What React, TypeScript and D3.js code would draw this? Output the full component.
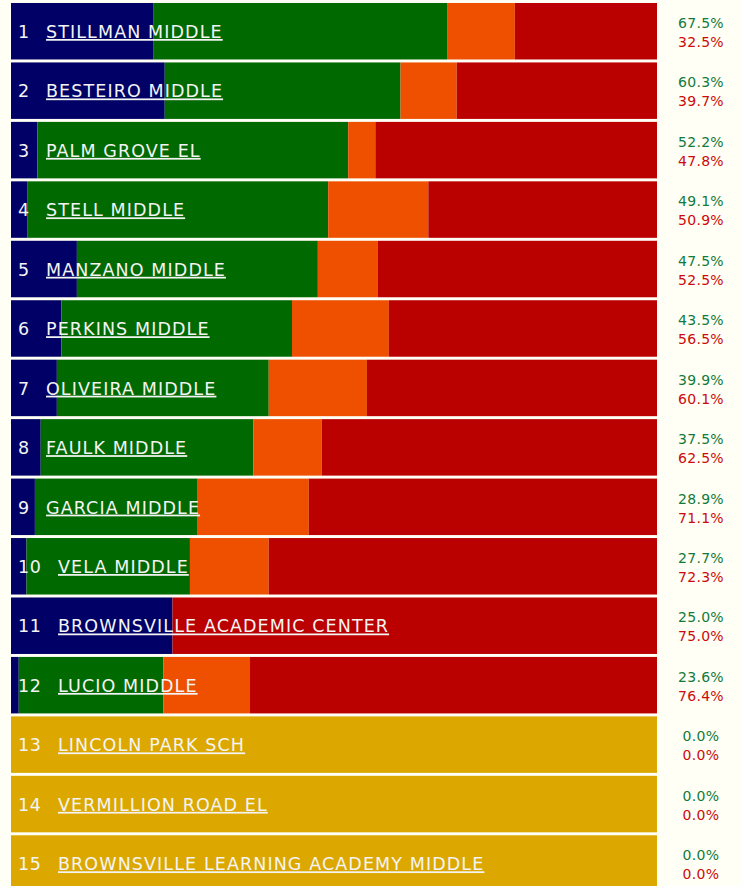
import { useRef, useEffect } from "react";
import * as d3 from "d3";

// campuses, in rank order
const schools = [
  "STILLMAN MIDDLE",
  "BESTEIRO MIDDLE",
  "PALM GROVE EL",
  "STELL MIDDLE",
  "MANZANO MIDDLE",
  "PERKINS MIDDLE",
  "OLIVEIRA MIDDLE",
  "FAULK MIDDLE",
  "GARCIA MIDDLE",
  "VELA MIDDLE",
  "BROWNSVILLE ACADEMIC CENTER",
  "LUCIO MIDDLE",
  "LINCOLN PARK SCH",
  "VERMILLION ROAD EL",
  "BROWNSVILLE LEARNING ACADEMY MIDDLE",
];

// segment shares (percent of the bar)
const masters = [22.0, 23.8, 4.1, 2.5, 10.2, 7.8, 7.1, 4.6, 3.7, 2.4, 25.0, 1.2, 0, 0, 0];
const meets = [45.5, 36.5, 48.1, 46.6, 37.3, 35.7, 32.8, 32.9, 25.2, 25.3, 0, 22.4, 0, 0, 0];
const approaches = [10.5, 8.7, 4.2, 15.5, 9.3, 15.0, 15.2, 10.6, 17.2, 12.2, 0, 13.4, 0, 0, 0];
const didNotMeet = [22.0, 31.0, 43.6, 35.4, 43.2, 41.5, 44.9, 51.9, 53.9, 60.1, 75.0, 63.0, 0, 0, 0];

// labels printed on the right
const passLabels = ["67.5%", "60.3%", "52.2%", "49.1%", "47.5%", "43.5%", "39.9%", "37.5%", "28.9%", "27.7%", "25.0%", "23.6%", "0.0%", "0.0%", "0.0%"];
const failLabels = ["32.5%", "39.7%", "47.8%", "50.9%", "52.5%", "56.5%", "60.1%", "62.5%", "71.1%", "72.3%", "75.0%", "76.4%", "0.0%", "0.0%", "0.0%"];

const keys = ["masters", "meets", "approaches", "didNotMeet"];
const colors = ["#000066", "#006a00", "#ee5000", "#bb0000"];

export default function App() {
  const ref = useRef<SVGSVGElement>(null);

  useEffect(() => {
    const width = 742;
    const height = 886;
    const svg = d3.select(ref.current);
    svg.selectAll("*").remove();

    svg.attr("width", width).attr("height", height);
    svg.append("rect").attr("width", width).attr("height", height).attr("fill", "#fffff6");

    const rows = schools.map((name, i) => ({
      name,
      rank: i + 1,
      masters: masters[i],
      meets: meets[i],
      approaches: approaches[i],
      didNotMeet: didNotMeet[i],
      total: masters[i] + meets[i] + approaches[i] + didNotMeet[i],
    }));

    const x = d3.scaleLinear().domain([0, 100]).range([11, 657]);
    const y = d3
      .scaleBand<number>()
      .domain(rows.map((d) => d.rank))
      .range([1.5, 1.5 + rows.length * 59.45])
      .paddingInner(0.05)
      .paddingOuter(0.025);

    const color = d3.scaleOrdinal<string, string>().domain(keys).range(colors);
    const stacked = d3.stack<any>().keys(keys)(rows);

    const g = svg.append("g");

    // rows without data get a gold bar
    g.selectAll("rect.empty")
      .data(rows.filter((d) => d.total === 0))
      .enter()
      .append("rect")
      .attr("class", "empty")
      .attr("x", x(0))
      .attr("y", (d) => y(d.rank)!)
      .attr("width", x(100) - x(0))
      .attr("height", y.bandwidth())
      .attr("fill", "#dca800");

    stacked.forEach((layer) => {
      g.selectAll(null)
        .data(layer.filter((d) => d[1] - d[0] > 0))
        .enter()
        .append("rect")
        .attr("x", (d) => x(d[0]))
        .attr("y", (d) => y(d.data.rank)!)
        .attr("width", (d) => x(d[1]) - x(d[0]))
        .attr("height", y.bandwidth())
        .attr("fill", color(layer.key));
    });

    const font = "Verdana, 'DejaVu Sans', sans-serif";

    const labels = g
      .selectAll("g.label")
      .data(rows)
      .enter()
      .append("g")
      .attr("class", "label")
      .attr("transform", (d) => `translate(0, ${y(d.rank)! + 35})`);

    labels
      .append("text")
      .attr("x", 18)
      .attr("fill", "#f4f4f4")
      .style("font-family", font)
      .style("font-size", "17.5px")
      .style("letter-spacing", "0.6px")
      .text((d) => d.rank);

    labels
      .append("text")
      .attr("x", (d) => (d.rank < 10 ? 46 : 58))
      .attr("fill", "#f4f4f4")
      .style("font-family", font)
      .style("font-size", "17.5px")
      .style("letter-spacing", "1.1px")
      .style("text-decoration", "underline")
      .text((d) => d.name);

    labels
      .append("text")
      .attr("x", 701)
      .attr("y", -10)
      .attr("text-anchor", "middle")
      .attr("fill", "#117a3c")
      .style("font-family", font)
      .style("font-size", "14px")
      .style("letter-spacing", "0.3px")
      .text((d, i) => passLabels[i]);

    labels
      .append("text")
      .attr("x", 701)
      .attr("y", 9)
      .attr("text-anchor", "middle")
      .attr("fill", "#cc0a0a")
      .style("font-family", font)
      .style("font-size", "14px")
      .style("letter-spacing", "0.3px")
      .text((d, i) => failLabels[i]);
  }, []);

  return <svg ref={ref} style={{ position: "absolute", left: 0, top: 0 }}></svg>;
}
